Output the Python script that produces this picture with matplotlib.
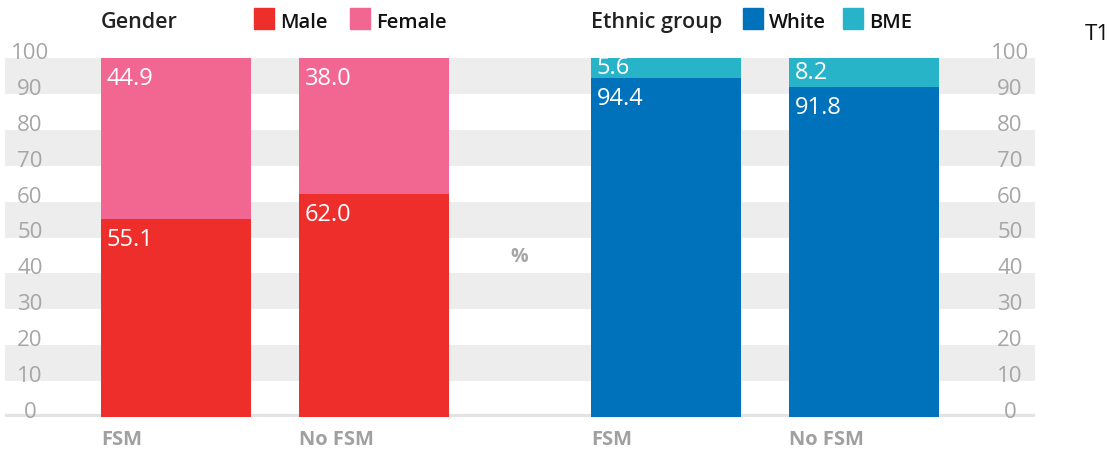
import numpy as np
import matplotlib.pyplot as plt
from matplotlib.patches import Rectangle
from matplotlib.transforms import blended_transform_factory

# ---- data ----
groups = ['FSM', 'No FSM']
male = [55.1, 62.0]
female = [44.9, 38.0]
white = [94.4, 91.8]
bme = [5.6, 8.2]
yticks = [0, 10, 20, 30, 40, 50, 60, 70, 80, 90, 100]

RED = '#EE2E2B'
PINK = '#F16792'
BLUE = '#0072BB'
TEAL = '#28B4C8'
GREY_TXT = '#A6A6A6'
BAND = '#EDEDED'

W, H = 1111, 452
plt.rcParams['font.family'] = ['Open Sans', 'DejaVu Sans']


def fx(px):
    return px / W


def fy(py):
    return 1 - py / H


fig = plt.figure(figsize=(W / 100, H / 100), dpi=100)
ax = fig.add_axes([fx(5), fy(418), fx(1035 - 5), (418 - 59) / H])

gap = 1.475
width = 0.758
x_left = np.arange(len(groups))
x_right = x_left + gap + 1

# grey bands
for lo in range(10, 100, 20):
    ax.axhspan(lo, lo + 10, color=BAND, lw=0, zorder=0)
ax.axhline(0.4, color='#E3E3E3', lw=3, zorder=1)

ax.bar(x_left, male, width, color=RED, zorder=2)
ax.bar(x_left, female, width, bottom=male, color=PINK, zorder=2)
ax.bar(x_right, white, width, color=BLUE, zorder=2)
ax.bar(x_right, bme, width, bottom=white, color=TEAL, zorder=2)

ax.set_xlim(-width / 2 - 96 / 198, x_right[-1] + width / 2 + 96 / 198)
ax.set_ylim(0, 100)
ax.axis('off')

lbl = dict(color='white', fontsize=17, ha='left', zorder=3, clip_on=True)


def top_label(x, bottom, val):
    ax.annotate('%.1f' % val, (x - width / 2, bottom + val),
                xytext=(6, -8), textcoords='offset pixels', va='top', **lbl)


def mid_label(x, bottom, val):
    ax.annotate('%.1f' % val, (x - width / 2, bottom + val / 2),
                xytext=(6, 1), textcoords='offset pixels', va='center', **lbl)


for i in range(len(groups)):
    top_label(x_left[i], 0, male[i])
    top_label(x_left[i], male[i], female[i])
    top_label(x_right[i], 0, white[i])
    mid_label(x_right[i], white[i], bme[i])

# axis labels on both sides
tr = blended_transform_factory(ax.transAxes, ax.transData)
for v in yticks:
    for xa in [25 / 1030, 1005 / 1030]:
        ax.text(xa, v, str(v), transform=tr, ha='center', va='baseline',
                fontsize=16, color=GREY_TXT)

# category labels
trc = blended_transform_factory(ax.transData, ax.transAxes)
for xs in [x_left, x_right]:
    for i, g in enumerate(groups):
        ax.text(xs[i] - width / 2, -27 / 359, g, transform=trc, ha='left',
                va='baseline', fontsize=14.5, color='#A0A0A0',
                fontweight='bold')

# headers and legends
fig.text(fx(101), fy(28), 'Gender', fontsize=15.5, color='#222222',
         va='baseline', fontweight='semibold')
fig.text(fx(591), fy(28), 'Ethnic group', fontsize=15.5, color='#222222',
         va='baseline', fontweight='semibold')
for px, name, col in [(254, 'Male', RED), (350, 'Female', PINK),
                      (743, 'White', BLUE), (843, 'BME', TEAL)]:
    fig.patches.append(Rectangle((fx(px), fy(30)), fx(20), 21 / H,
                                 transform=fig.transFigure, color=col))
    fig.text(fx(px + 26), fy(28), name, fontsize=14.5, color='#111111',
             va='baseline', fontweight='semibold')

fig.text(fx(519), fy(257), '%', fontsize=14, color=GREY_TXT,
         fontweight='bold', ha='center', va='center')
fig.text(fx(1085), fy(35), 'T1', fontsize=16, color='#111111', va='center')

fig.savefig('out.png', dpi=100)
